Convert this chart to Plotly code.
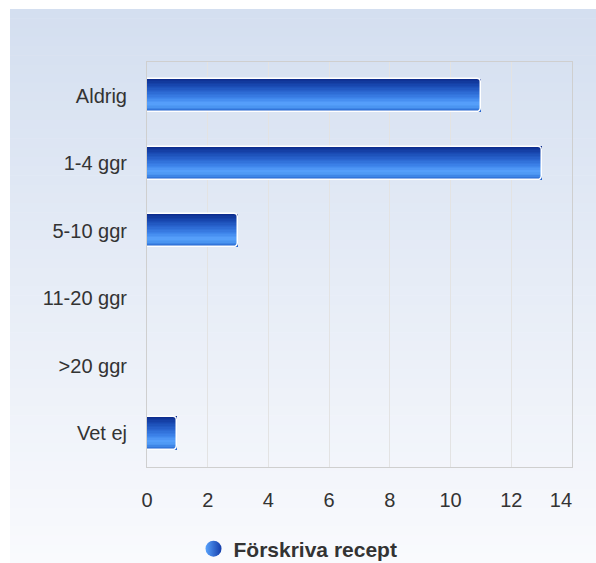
import plotly.graph_objects as go

categories = ["Aldrig", "1-4 ggr", "5-10 ggr", "11-20 ggr", ">20 ggr", "Vet ej"]
values = [11, 13, 3, 0, 0, 1]
series_name = "Förskriva recept"
x_ticks = [0, 2, 4, 6, 8, 10, 12, 14]

W, H = 596, 563
L, R, T, B = 147, 24, 62, 96
pw, ph = W - L - R, H - T - B

def px2paper_x(px):
    return (px - L) / pw

def px2paper_y(py):
    return (H - B - py) / ph

fig = go.Figure()

# background gradient bands
shapes = []
top_c = (212, 223, 240)
bot_c = (249, 250, 253)
y0, y1 = 9, H
n = 60
for i in range(n):
    t = i / (n - 1)
    c = tuple(int(round(top_c[k] + (bot_c[k] - top_c[k]) * t)) for k in range(3))
    ya = y0 + (y1 - y0) * i / n
    yb = y0 + (y1 - y0) * (i + 1) / n + 0.6
    shapes.append(dict(type="rect", xref="paper", yref="paper", layer="below",
                       x0=px2paper_x(10), x1=px2paper_x(W + 2),
                       y0=px2paper_y(yb), y1=px2paper_y(ya),
                       fillcolor="rgb(%d,%d,%d)" % c, line=dict(width=0)))

# bar gradient stripes (top -> bottom)
stops = [(0.0, (12, 42, 138)), (0.2, (24, 72, 176)), (0.4, (42, 102, 208)),
         (0.6, (63, 134, 236)), (0.75, (88, 162, 252)), (0.86, (74, 148, 240)),
         (1.0, (31, 92, 200))]

def grad(t):
    for j in range(len(stops) - 1):
        a, ca = stops[j]
        b, cb = stops[j + 1]
        if a <= t <= b:
            f = (t - a) / (b - a)
            return tuple(int(round(ca[k] + (cb[k] - ca[k]) * f)) for k in range(3))
    return stops[-1][1]

bw = 0.49
ns = 24
h = bw / ns
for i in range(ns):
    c = grad((i + 0.5) / ns)
    fig.add_trace(go.Bar(
        y=categories, x=values, orientation="h",
        width=h * 1.15, offset=-bw / 2 + i * h,
        marker=dict(color="rgb(%d,%d,%d)" % c, line=dict(width=0)),
        showlegend=False, hoverinfo="skip"))

# outline
fig.add_trace(go.Bar(
    y=categories, x=values, orientation="h", width=bw,
    marker=dict(color="rgba(0,0,0,0)", line=dict(color="white", width=1.5), cornerradius=4),
    showlegend=False, hoverinfo="skip"))

# legend item
fig.add_trace(go.Scatter(
    x=[None], y=[None], mode="markers", name=series_name,
    marker=dict(symbol="circle", size=23, color="rgb(88,162,252)",
                gradient=dict(type="horizontal", color="rgb(20,60,170)"))))

tick_text = [str(v) for v in x_ticks]
tick_text[-1] = tick_text[-1] + "\u00a0" * 4

fig.update_layout(
    width=W, height=H,
    margin=dict(l=L, r=R, t=T, b=B, pad=0, autoexpand=False),
    paper_bgcolor="white", plot_bgcolor="rgba(0,0,0,0)",
    barmode="overlay", bargap=0,
    shapes=shapes,
    font=dict(family="Liberation Sans, Arial, sans-serif", size=20, color="#333333"),
    xaxis=dict(range=[0, 14], tickvals=x_ticks, ticktext=tick_text, showgrid=True,
               gridcolor="#e3e3e3", gridwidth=1, zeroline=False, showline=True,
               linecolor="#cfcfcf", mirror=True, ticks="outside", ticklen=15,
               tickcolor="rgba(0,0,0,0)", tickfont=dict(size=20, color="#333333"),
               fixedrange=True, automargin=False),
    yaxis=dict(categoryorder="array", categoryarray=categories, autorange="reversed",
               showgrid=False, zeroline=False, showline=True, linecolor="#cfcfcf",
               mirror=True, ticks="outside", ticklen=15, tickcolor="rgba(0,0,0,0)",
               tickfont=dict(size=20, color="#333333"), fixedrange=True,
               automargin=False),
    legend=dict(orientation="h", x=0.5, xanchor="center", xref="container",
                y=1 - 549 / H, yanchor="middle", yref="container",
                font=dict(size=21, color="#333333", family="Liberation Sans, Arial, sans-serif",
                          weight="bold"),
                bgcolor="rgba(0,0,0,0)", itemwidth=30),
)

fig.write_html(
    "out.html",
    config={"displayModeBar": False},
    post_script="document.body.style.margin='0';document.body.style.overflow='hidden';",
)
